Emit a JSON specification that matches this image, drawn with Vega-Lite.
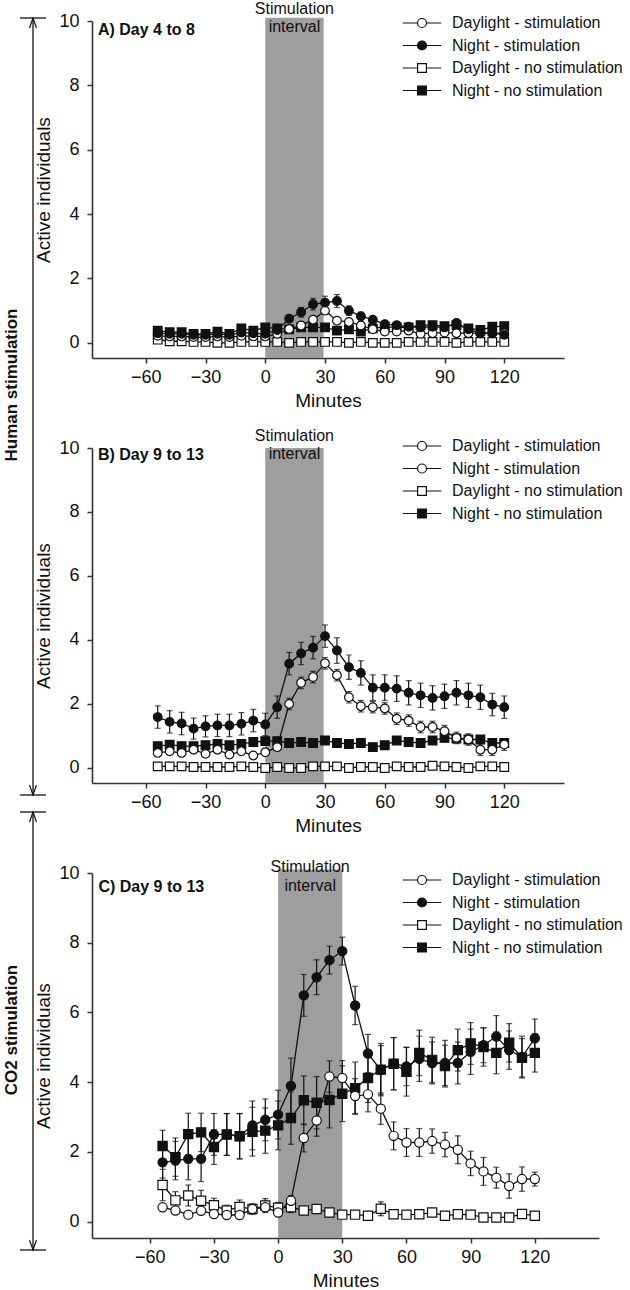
{
"$schema": "https://vega.github.io/schema/vega-lite/v6.json",
"background": "white",
"padding": {"left": 3, "top": 1, "right": 0, "bottom": 0},
"bounds": "flush",
"spacing": 44,
"config": {
  "font": "Liberation Sans",
  "view": {"stroke": null},
  "axis": {"grid": false, "domainColor": "#333", "domainWidth": 1.6, "tickColor": "#333", "tickWidth": 1.5, "tickSize": 5, "labelFontSize": 18, "labelColor": "#111", "titleFontSize": 19, "titleFontWeight": "normal", "titleColor": "#111", "labelFont": "Liberation Sans", "titleFont": "Liberation Sans"},
  "axisX": {"labelPadding": 5, "titlePadding": 5},
  "axisY": {"labelPadding": 8, "titlePadding": 5},
  "legend": {"labelFontSize": 16, "labelFont": "Liberation Sans", "labelColor": "#111", "symbolSize": 256, "symbolStrokeWidth": 1.2, "symbolStrokeColor": "#111", "labelOffset": 21, "rowPadding": 5.5, "padding": 0, "labelLimit": 300}
},
"datasets": {
"A": [
{"series":"Daylight - no stimulation","minute":-54,"active":0.1,"se":0.03},
{"series":"Daylight - no stimulation","minute":-48,"active":0.05,"se":0.03},
{"series":"Daylight - no stimulation","minute":-42,"active":0.05,"se":0.03},
{"series":"Daylight - no stimulation","minute":-36,"active":0.03,"se":0.03},
{"series":"Daylight - no stimulation","minute":-30,"active":0.03,"se":0.03},
{"series":"Daylight - no stimulation","minute":-24,"active":0.0,"se":0.03},
{"series":"Daylight - no stimulation","minute":-18,"active":0.0,"se":0.03},
{"series":"Daylight - no stimulation","minute":-12,"active":0.03,"se":0.03},
{"series":"Daylight - no stimulation","minute":-6,"active":0.03,"se":0.03},
{"series":"Daylight - no stimulation","minute":0,"active":0.03,"se":0.03},
{"series":"Daylight - no stimulation","minute":6,"active":0.03,"se":0.03},
{"series":"Daylight - no stimulation","minute":12,"active":0.0,"se":0.03},
{"series":"Daylight - no stimulation","minute":18,"active":0.03,"se":0.03},
{"series":"Daylight - no stimulation","minute":24,"active":0.03,"se":0.03},
{"series":"Daylight - no stimulation","minute":30,"active":0.03,"se":0.03},
{"series":"Daylight - no stimulation","minute":36,"active":0.03,"se":0.03},
{"series":"Daylight - no stimulation","minute":42,"active":0.0,"se":0.03},
{"series":"Daylight - no stimulation","minute":48,"active":0.03,"se":0.03},
{"series":"Daylight - no stimulation","minute":54,"active":0.0,"se":0.03},
{"series":"Daylight - no stimulation","minute":60,"active":0.0,"se":0.03},
{"series":"Daylight - no stimulation","minute":66,"active":0.0,"se":0.03},
{"series":"Daylight - no stimulation","minute":72,"active":0.03,"se":0.03},
{"series":"Daylight - no stimulation","minute":78,"active":0.03,"se":0.03},
{"series":"Daylight - no stimulation","minute":84,"active":0.03,"se":0.03},
{"series":"Daylight - no stimulation","minute":90,"active":0.03,"se":0.03},
{"series":"Daylight - no stimulation","minute":96,"active":0.0,"se":0.03},
{"series":"Daylight - no stimulation","minute":102,"active":0.03,"se":0.03},
{"series":"Daylight - no stimulation","minute":108,"active":0.03,"se":0.03},
{"series":"Daylight - no stimulation","minute":114,"active":0.03,"se":0.03},
{"series":"Daylight - no stimulation","minute":120,"active":0.03,"se":0.03},
{"series":"Night - no stimulation","minute":-54,"active":0.38,"se":0.07},
{"series":"Night - no stimulation","minute":-48,"active":0.33,"se":0.07},
{"series":"Night - no stimulation","minute":-42,"active":0.33,"se":0.07},
{"series":"Night - no stimulation","minute":-36,"active":0.28,"se":0.07},
{"series":"Night - no stimulation","minute":-30,"active":0.28,"se":0.07},
{"series":"Night - no stimulation","minute":-24,"active":0.35,"se":0.07},
{"series":"Night - no stimulation","minute":-18,"active":0.28,"se":0.07},
{"series":"Night - no stimulation","minute":-12,"active":0.45,"se":0.07},
{"series":"Night - no stimulation","minute":-6,"active":0.38,"se":0.07},
{"series":"Night - no stimulation","minute":0,"active":0.48,"se":0.07},
{"series":"Night - no stimulation","minute":6,"active":0.45,"se":0.07},
{"series":"Night - no stimulation","minute":12,"active":0.42,"se":0.07},
{"series":"Night - no stimulation","minute":18,"active":0.48,"se":0.07},
{"series":"Night - no stimulation","minute":24,"active":0.48,"se":0.07},
{"series":"Night - no stimulation","minute":30,"active":0.48,"se":0.07},
{"series":"Night - no stimulation","minute":36,"active":0.38,"se":0.07},
{"series":"Night - no stimulation","minute":42,"active":0.42,"se":0.07},
{"series":"Night - no stimulation","minute":48,"active":0.35,"se":0.07},
{"series":"Night - no stimulation","minute":54,"active":0.45,"se":0.07},
{"series":"Night - no stimulation","minute":60,"active":0.5,"se":0.07},
{"series":"Night - no stimulation","minute":66,"active":0.48,"se":0.07},
{"series":"Night - no stimulation","minute":72,"active":0.48,"se":0.07},
{"series":"Night - no stimulation","minute":78,"active":0.55,"se":0.07},
{"series":"Night - no stimulation","minute":84,"active":0.55,"se":0.07},
{"series":"Night - no stimulation","minute":90,"active":0.52,"se":0.07},
{"series":"Night - no stimulation","minute":96,"active":0.55,"se":0.07},
{"series":"Night - no stimulation","minute":102,"active":0.45,"se":0.07},
{"series":"Night - no stimulation","minute":108,"active":0.4,"se":0.07},
{"series":"Night - no stimulation","minute":114,"active":0.5,"se":0.07},
{"series":"Night - no stimulation","minute":120,"active":0.52,"se":0.07},
{"series":"Daylight - stimulation","minute":-54,"active":0.22,"se":0.06},
{"series":"Daylight - stimulation","minute":-48,"active":0.2,"se":0.06},
{"series":"Daylight - stimulation","minute":-42,"active":0.2,"se":0.06},
{"series":"Daylight - stimulation","minute":-36,"active":0.18,"se":0.06},
{"series":"Daylight - stimulation","minute":-30,"active":0.18,"se":0.06},
{"series":"Daylight - stimulation","minute":-24,"active":0.2,"se":0.06},
{"series":"Daylight - stimulation","minute":-18,"active":0.18,"se":0.06},
{"series":"Daylight - stimulation","minute":-12,"active":0.22,"se":0.06},
{"series":"Daylight - stimulation","minute":-6,"active":0.2,"se":0.06},
{"series":"Daylight - stimulation","minute":0,"active":0.2,"se":0.06},
{"series":"Daylight - stimulation","minute":6,"active":0.28,"se":0.06},
{"series":"Daylight - stimulation","minute":12,"active":0.43,"se":0.1},
{"series":"Daylight - stimulation","minute":18,"active":0.54,"se":0.1},
{"series":"Daylight - stimulation","minute":24,"active":0.72,"se":0.1},
{"series":"Daylight - stimulation","minute":30,"active":1.0,"se":0.1},
{"series":"Daylight - stimulation","minute":36,"active":0.69,"se":0.1},
{"series":"Daylight - stimulation","minute":42,"active":0.65,"se":0.1},
{"series":"Daylight - stimulation","minute":48,"active":0.54,"se":0.1},
{"series":"Daylight - stimulation","minute":54,"active":0.42,"se":0.07},
{"series":"Daylight - stimulation","minute":60,"active":0.35,"se":0.07},
{"series":"Daylight - stimulation","minute":66,"active":0.35,"se":0.07},
{"series":"Daylight - stimulation","minute":72,"active":0.38,"se":0.07},
{"series":"Daylight - stimulation","minute":78,"active":0.28,"se":0.07},
{"series":"Daylight - stimulation","minute":84,"active":0.3,"se":0.07},
{"series":"Daylight - stimulation","minute":90,"active":0.32,"se":0.07},
{"series":"Daylight - stimulation","minute":96,"active":0.3,"se":0.07},
{"series":"Daylight - stimulation","minute":102,"active":0.3,"se":0.07},
{"series":"Daylight - stimulation","minute":108,"active":0.3,"se":0.07},
{"series":"Daylight - stimulation","minute":114,"active":0.3,"se":0.07},
{"series":"Daylight - stimulation","minute":120,"active":0.3,"se":0.07},
{"series":"Night - stimulation","minute":-54,"active":0.3,"se":0.08},
{"series":"Night - stimulation","minute":-48,"active":0.28,"se":0.08},
{"series":"Night - stimulation","minute":-42,"active":0.28,"se":0.08},
{"series":"Night - stimulation","minute":-36,"active":0.25,"se":0.08},
{"series":"Night - stimulation","minute":-30,"active":0.25,"se":0.08},
{"series":"Night - stimulation","minute":-24,"active":0.28,"se":0.08},
{"series":"Night - stimulation","minute":-18,"active":0.25,"se":0.08},
{"series":"Night - stimulation","minute":-12,"active":0.32,"se":0.08},
{"series":"Night - stimulation","minute":-6,"active":0.3,"se":0.08},
{"series":"Night - stimulation","minute":0,"active":0.28,"se":0.08},
{"series":"Night - stimulation","minute":6,"active":0.4,"se":0.1},
{"series":"Night - stimulation","minute":12,"active":0.75,"se":0.12},
{"series":"Night - stimulation","minute":18,"active":0.95,"se":0.15},
{"series":"Night - stimulation","minute":24,"active":1.2,"se":0.18},
{"series":"Night - stimulation","minute":30,"active":1.25,"se":0.2},
{"series":"Night - stimulation","minute":36,"active":1.3,"se":0.2},
{"series":"Night - stimulation","minute":42,"active":1.0,"se":0.15},
{"series":"Night - stimulation","minute":48,"active":0.83,"se":0.12},
{"series":"Night - stimulation","minute":54,"active":0.72,"se":0.1},
{"series":"Night - stimulation","minute":60,"active":0.58,"se":0.1},
{"series":"Night - stimulation","minute":66,"active":0.55,"se":0.1},
{"series":"Night - stimulation","minute":72,"active":0.5,"se":0.1},
{"series":"Night - stimulation","minute":78,"active":0.48,"se":0.1},
{"series":"Night - stimulation","minute":84,"active":0.5,"se":0.1},
{"series":"Night - stimulation","minute":90,"active":0.48,"se":0.1},
{"series":"Night - stimulation","minute":96,"active":0.62,"se":0.1},
{"series":"Night - stimulation","minute":102,"active":0.42,"se":0.1},
{"series":"Night - stimulation","minute":108,"active":0.3,"se":0.08},
{"series":"Night - stimulation","minute":114,"active":0.3,"se":0.08},
{"series":"Night - stimulation","minute":120,"active":0.25,"se":0.08}
],
"B": [
{"series":"Daylight - no stimulation","minute":-54,"active":0.05,"se":0.03},
{"series":"Daylight - no stimulation","minute":-48,"active":0.05,"se":0.03},
{"series":"Daylight - no stimulation","minute":-42,"active":0.05,"se":0.03},
{"series":"Daylight - no stimulation","minute":-36,"active":0.03,"se":0.03},
{"series":"Daylight - no stimulation","minute":-30,"active":0.03,"se":0.03},
{"series":"Daylight - no stimulation","minute":-24,"active":0.03,"se":0.03},
{"series":"Daylight - no stimulation","minute":-18,"active":0.03,"se":0.03},
{"series":"Daylight - no stimulation","minute":-12,"active":0.05,"se":0.03},
{"series":"Daylight - no stimulation","minute":-6,"active":0.03,"se":0.03},
{"series":"Daylight - no stimulation","minute":0,"active":0.0,"se":0.03},
{"series":"Daylight - no stimulation","minute":6,"active":0.03,"se":0.03},
{"series":"Daylight - no stimulation","minute":12,"active":0.0,"se":0.03},
{"series":"Daylight - no stimulation","minute":18,"active":0.0,"se":0.03},
{"series":"Daylight - no stimulation","minute":24,"active":0.05,"se":0.03},
{"series":"Daylight - no stimulation","minute":30,"active":0.05,"se":0.03},
{"series":"Daylight - no stimulation","minute":36,"active":0.05,"se":0.03},
{"series":"Daylight - no stimulation","minute":42,"active":0.0,"se":0.03},
{"series":"Daylight - no stimulation","minute":48,"active":0.03,"se":0.03},
{"series":"Daylight - no stimulation","minute":54,"active":0.03,"se":0.03},
{"series":"Daylight - no stimulation","minute":60,"active":0.0,"se":0.03},
{"series":"Daylight - no stimulation","minute":66,"active":0.05,"se":0.03},
{"series":"Daylight - no stimulation","minute":72,"active":0.03,"se":0.03},
{"series":"Daylight - no stimulation","minute":78,"active":0.03,"se":0.03},
{"series":"Daylight - no stimulation","minute":84,"active":0.07,"se":0.03},
{"series":"Daylight - no stimulation","minute":90,"active":0.05,"se":0.03},
{"series":"Daylight - no stimulation","minute":96,"active":0.03,"se":0.03},
{"series":"Daylight - no stimulation","minute":102,"active":0.0,"se":0.03},
{"series":"Daylight - no stimulation","minute":108,"active":0.05,"se":0.03},
{"series":"Daylight - no stimulation","minute":114,"active":0.05,"se":0.03},
{"series":"Daylight - no stimulation","minute":120,"active":0.03,"se":0.03},
{"series":"Night - no stimulation","minute":-54,"active":0.68,"se":0.12},
{"series":"Night - no stimulation","minute":-48,"active":0.73,"se":0.12},
{"series":"Night - no stimulation","minute":-42,"active":0.68,"se":0.12},
{"series":"Night - no stimulation","minute":-36,"active":0.68,"se":0.12},
{"series":"Night - no stimulation","minute":-30,"active":0.71,"se":0.12},
{"series":"Night - no stimulation","minute":-24,"active":0.75,"se":0.12},
{"series":"Night - no stimulation","minute":-18,"active":0.71,"se":0.12},
{"series":"Night - no stimulation","minute":-12,"active":0.75,"se":0.12},
{"series":"Night - no stimulation","minute":-6,"active":0.81,"se":0.12},
{"series":"Night - no stimulation","minute":0,"active":0.84,"se":0.12},
{"series":"Night - no stimulation","minute":6,"active":0.84,"se":0.12},
{"series":"Night - no stimulation","minute":12,"active":0.78,"se":0.12},
{"series":"Night - no stimulation","minute":18,"active":0.81,"se":0.12},
{"series":"Night - no stimulation","minute":24,"active":0.78,"se":0.12},
{"series":"Night - no stimulation","minute":30,"active":0.86,"se":0.12},
{"series":"Night - no stimulation","minute":36,"active":0.78,"se":0.12},
{"series":"Night - no stimulation","minute":42,"active":0.75,"se":0.12},
{"series":"Night - no stimulation","minute":48,"active":0.78,"se":0.12},
{"series":"Night - no stimulation","minute":54,"active":0.65,"se":0.12},
{"series":"Night - no stimulation","minute":60,"active":0.71,"se":0.12},
{"series":"Night - no stimulation","minute":66,"active":0.86,"se":0.12},
{"series":"Night - no stimulation","minute":72,"active":0.81,"se":0.12},
{"series":"Night - no stimulation","minute":78,"active":0.78,"se":0.12},
{"series":"Night - no stimulation","minute":84,"active":0.86,"se":0.12},
{"series":"Night - no stimulation","minute":90,"active":0.94,"se":0.12},
{"series":"Night - no stimulation","minute":96,"active":0.92,"se":0.12},
{"series":"Night - no stimulation","minute":102,"active":0.89,"se":0.12},
{"series":"Night - no stimulation","minute":108,"active":0.89,"se":0.12},
{"series":"Night - no stimulation","minute":114,"active":0.78,"se":0.12},
{"series":"Night - no stimulation","minute":120,"active":0.78,"se":0.12},
{"series":"Daylight - stimulation","minute":-54,"active":0.47,"se":0.1},
{"series":"Daylight - stimulation","minute":-48,"active":0.52,"se":0.1},
{"series":"Daylight - stimulation","minute":-42,"active":0.47,"se":0.1},
{"series":"Daylight - stimulation","minute":-36,"active":0.57,"se":0.1},
{"series":"Daylight - stimulation","minute":-30,"active":0.44,"se":0.1},
{"series":"Daylight - stimulation","minute":-24,"active":0.57,"se":0.1},
{"series":"Daylight - stimulation","minute":-18,"active":0.42,"se":0.1},
{"series":"Daylight - stimulation","minute":-12,"active":0.52,"se":0.1},
{"series":"Daylight - stimulation","minute":-6,"active":0.39,"se":0.1},
{"series":"Daylight - stimulation","minute":0,"active":0.49,"se":0.1},
{"series":"Daylight - stimulation","minute":6,"active":0.65,"se":0.1},
{"series":"Daylight - stimulation","minute":12,"active":2.0,"se":0.18},
{"series":"Daylight - stimulation","minute":18,"active":2.66,"se":0.18},
{"series":"Daylight - stimulation","minute":24,"active":2.84,"se":0.18},
{"series":"Daylight - stimulation","minute":30,"active":3.27,"se":0.18},
{"series":"Daylight - stimulation","minute":36,"active":2.9,"se":0.18},
{"series":"Daylight - stimulation","minute":42,"active":2.21,"se":0.18},
{"series":"Daylight - stimulation","minute":48,"active":1.93,"se":0.18},
{"series":"Daylight - stimulation","minute":54,"active":1.9,"se":0.18},
{"series":"Daylight - stimulation","minute":60,"active":1.86,"se":0.18},
{"series":"Daylight - stimulation","minute":66,"active":1.54,"se":0.18},
{"series":"Daylight - stimulation","minute":72,"active":1.48,"se":0.18},
{"series":"Daylight - stimulation","minute":78,"active":1.28,"se":0.18},
{"series":"Daylight - stimulation","minute":84,"active":1.28,"se":0.18},
{"series":"Daylight - stimulation","minute":90,"active":1.15,"se":0.18},
{"series":"Daylight - stimulation","minute":96,"active":0.94,"se":0.18},
{"series":"Daylight - stimulation","minute":102,"active":0.89,"se":0.18},
{"series":"Daylight - stimulation","minute":108,"active":0.57,"se":0.18},
{"series":"Daylight - stimulation","minute":114,"active":0.57,"se":0.18},
{"series":"Daylight - stimulation","minute":120,"active":0.73,"se":0.18},
{"series":"Night - stimulation","minute":-54,"active":1.59,"se":0.35},
{"series":"Night - stimulation","minute":-48,"active":1.44,"se":0.35},
{"series":"Night - stimulation","minute":-42,"active":1.39,"se":0.35},
{"series":"Night - stimulation","minute":-36,"active":1.23,"se":0.33},
{"series":"Night - stimulation","minute":-30,"active":1.3,"se":0.33},
{"series":"Night - stimulation","minute":-24,"active":1.33,"se":0.35},
{"series":"Night - stimulation","minute":-18,"active":1.33,"se":0.35},
{"series":"Night - stimulation","minute":-12,"active":1.38,"se":0.35},
{"series":"Night - stimulation","minute":-6,"active":1.48,"se":0.35},
{"series":"Night - stimulation","minute":0,"active":1.36,"se":0.35},
{"series":"Night - stimulation","minute":6,"active":1.9,"se":0.35},
{"series":"Night - stimulation","minute":12,"active":3.26,"se":0.35},
{"series":"Night - stimulation","minute":18,"active":3.58,"se":0.35},
{"series":"Night - stimulation","minute":24,"active":3.76,"se":0.35},
{"series":"Night - stimulation","minute":30,"active":4.12,"se":0.35},
{"series":"Night - stimulation","minute":36,"active":3.67,"se":0.4},
{"series":"Night - stimulation","minute":42,"active":3.15,"se":0.38},
{"series":"Night - stimulation","minute":48,"active":2.97,"se":0.38},
{"series":"Night - stimulation","minute":54,"active":2.51,"se":0.4},
{"series":"Night - stimulation","minute":60,"active":2.51,"se":0.4},
{"series":"Night - stimulation","minute":66,"active":2.48,"se":0.4},
{"series":"Night - stimulation","minute":72,"active":2.35,"se":0.38},
{"series":"Night - stimulation","minute":78,"active":2.27,"se":0.38},
{"series":"Night - stimulation","minute":84,"active":2.19,"se":0.38},
{"series":"Night - stimulation","minute":90,"active":2.24,"se":0.38},
{"series":"Night - stimulation","minute":96,"active":2.35,"se":0.38},
{"series":"Night - stimulation","minute":102,"active":2.27,"se":0.38},
{"series":"Night - stimulation","minute":108,"active":2.21,"se":0.38},
{"series":"Night - stimulation","minute":114,"active":1.98,"se":0.35},
{"series":"Night - stimulation","minute":120,"active":1.9,"se":0.35}
],
"C": [
{"series":"Daylight - no stimulation","minute":-54,"active":1.05,"se":0.45},
{"series":"Daylight - no stimulation","minute":-48,"active":0.61,"se":0.25},
{"series":"Daylight - no stimulation","minute":-42,"active":0.75,"se":0.3},
{"series":"Daylight - no stimulation","minute":-36,"active":0.6,"se":0.3},
{"series":"Daylight - no stimulation","minute":-30,"active":0.47,"se":0.2},
{"series":"Daylight - no stimulation","minute":-24,"active":0.32,"se":0.15},
{"series":"Daylight - no stimulation","minute":-18,"active":0.42,"se":0.2},
{"series":"Daylight - no stimulation","minute":-12,"active":0.36,"se":0.15},
{"series":"Daylight - no stimulation","minute":-6,"active":0.46,"se":0.2},
{"series":"Daylight - no stimulation","minute":0,"active":0.4,"se":0.15},
{"series":"Daylight - no stimulation","minute":6,"active":0.41,"se":0.15},
{"series":"Daylight - no stimulation","minute":12,"active":0.32,"se":0.1},
{"series":"Daylight - no stimulation","minute":18,"active":0.36,"se":0.1},
{"series":"Daylight - no stimulation","minute":24,"active":0.26,"se":0.08},
{"series":"Daylight - no stimulation","minute":30,"active":0.2,"se":0.06},
{"series":"Daylight - no stimulation","minute":36,"active":0.2,"se":0.06},
{"series":"Daylight - no stimulation","minute":42,"active":0.17,"se":0.06},
{"series":"Daylight - no stimulation","minute":48,"active":0.37,"se":0.2},
{"series":"Daylight - no stimulation","minute":54,"active":0.21,"se":0.1},
{"series":"Daylight - no stimulation","minute":60,"active":0.2,"se":0.1},
{"series":"Daylight - no stimulation","minute":66,"active":0.21,"se":0.1},
{"series":"Daylight - no stimulation","minute":72,"active":0.26,"se":0.1},
{"series":"Daylight - no stimulation","minute":78,"active":0.17,"se":0.06},
{"series":"Daylight - no stimulation","minute":84,"active":0.21,"se":0.06},
{"series":"Daylight - no stimulation","minute":90,"active":0.2,"se":0.06},
{"series":"Daylight - no stimulation","minute":96,"active":0.12,"se":0.05},
{"series":"Daylight - no stimulation","minute":102,"active":0.12,"se":0.05},
{"series":"Daylight - no stimulation","minute":108,"active":0.12,"se":0.05},
{"series":"Daylight - no stimulation","minute":114,"active":0.22,"se":0.08},
{"series":"Daylight - no stimulation","minute":120,"active":0.17,"se":0.06},
{"series":"Night - no stimulation","minute":-54,"active":2.17,"se":0.45},
{"series":"Night - no stimulation","minute":-48,"active":1.85,"se":0.55},
{"series":"Night - no stimulation","minute":-42,"active":2.51,"se":0.6},
{"series":"Night - no stimulation","minute":-36,"active":2.56,"se":0.55},
{"series":"Night - no stimulation","minute":-30,"active":2.14,"se":0.5},
{"series":"Night - no stimulation","minute":-24,"active":2.5,"se":0.6},
{"series":"Night - no stimulation","minute":-18,"active":2.45,"se":0.65},
{"series":"Night - no stimulation","minute":-12,"active":2.58,"se":0.7},
{"series":"Night - no stimulation","minute":-6,"active":2.61,"se":0.65},
{"series":"Night - no stimulation","minute":0,"active":2.76,"se":0.7},
{"series":"Night - no stimulation","minute":6,"active":2.97,"se":0.75},
{"series":"Night - no stimulation","minute":12,"active":3.48,"se":0.7},
{"series":"Night - no stimulation","minute":18,"active":3.41,"se":0.75},
{"series":"Night - no stimulation","minute":24,"active":3.49,"se":0.8},
{"series":"Night - no stimulation","minute":30,"active":3.67,"se":0.8},
{"series":"Night - no stimulation","minute":36,"active":3.83,"se":0.75},
{"series":"Night - no stimulation","minute":42,"active":4.12,"se":0.7},
{"series":"Night - no stimulation","minute":48,"active":4.36,"se":0.75},
{"series":"Night - no stimulation","minute":54,"active":4.53,"se":0.75},
{"series":"Night - no stimulation","minute":60,"active":4.3,"se":0.7},
{"series":"Night - no stimulation","minute":66,"active":4.84,"se":0.65},
{"series":"Night - no stimulation","minute":72,"active":4.64,"se":0.65},
{"series":"Night - no stimulation","minute":78,"active":4.46,"se":0.6},
{"series":"Night - no stimulation","minute":84,"active":4.92,"se":0.6},
{"series":"Night - no stimulation","minute":90,"active":5.11,"se":0.6},
{"series":"Night - no stimulation","minute":96,"active":5.01,"se":0.55},
{"series":"Night - no stimulation","minute":102,"active":4.84,"se":0.6},
{"series":"Night - no stimulation","minute":108,"active":5.13,"se":0.55},
{"series":"Night - no stimulation","minute":114,"active":4.7,"se":0.55},
{"series":"Night - no stimulation","minute":120,"active":4.84,"se":0.55},
{"series":"Daylight - stimulation","minute":-54,"active":0.41,"se":0.1},
{"series":"Daylight - stimulation","minute":-48,"active":0.32,"se":0.1},
{"series":"Daylight - stimulation","minute":-42,"active":0.2,"se":0.08},
{"series":"Daylight - stimulation","minute":-36,"active":0.31,"se":0.1},
{"series":"Daylight - stimulation","minute":-30,"active":0.22,"se":0.08},
{"series":"Daylight - stimulation","minute":-24,"active":0.19,"se":0.08},
{"series":"Daylight - stimulation","minute":-18,"active":0.19,"se":0.1},
{"series":"Daylight - stimulation","minute":-12,"active":0.36,"se":0.1},
{"series":"Daylight - stimulation","minute":-6,"active":0.41,"se":0.1},
{"series":"Daylight - stimulation","minute":0,"active":0.26,"se":0.1},
{"series":"Daylight - stimulation","minute":6,"active":0.6,"se":0.15},
{"series":"Daylight - stimulation","minute":12,"active":2.4,"se":0.4},
{"series":"Daylight - stimulation","minute":18,"active":2.9,"se":0.45},
{"series":"Daylight - stimulation","minute":24,"active":4.16,"se":0.45},
{"series":"Daylight - stimulation","minute":30,"active":4.12,"se":0.5},
{"series":"Daylight - stimulation","minute":36,"active":3.6,"se":0.5},
{"series":"Daylight - stimulation","minute":42,"active":3.65,"se":0.5},
{"series":"Daylight - stimulation","minute":48,"active":3.24,"se":0.45},
{"series":"Daylight - stimulation","minute":54,"active":2.46,"se":0.4},
{"series":"Daylight - stimulation","minute":60,"active":2.27,"se":0.4},
{"series":"Daylight - stimulation","minute":66,"active":2.27,"se":0.4},
{"series":"Daylight - stimulation","minute":72,"active":2.31,"se":0.35},
{"series":"Daylight - stimulation","minute":78,"active":2.21,"se":0.35},
{"series":"Daylight - stimulation","minute":84,"active":2.06,"se":0.4},
{"series":"Daylight - stimulation","minute":90,"active":1.67,"se":0.35},
{"series":"Daylight - stimulation","minute":96,"active":1.44,"se":0.4},
{"series":"Daylight - stimulation","minute":102,"active":1.26,"se":0.3},
{"series":"Daylight - stimulation","minute":108,"active":1.02,"se":0.35},
{"series":"Daylight - stimulation","minute":114,"active":1.22,"se":0.35},
{"series":"Daylight - stimulation","minute":120,"active":1.22,"se":0.2},
{"series":"Night - stimulation","minute":-54,"active":1.7,"se":0.45},
{"series":"Night - stimulation","minute":-48,"active":1.75,"se":0.55},
{"series":"Night - stimulation","minute":-42,"active":1.8,"se":0.6},
{"series":"Night - stimulation","minute":-36,"active":1.8,"se":0.65},
{"series":"Night - stimulation","minute":-30,"active":2.5,"se":0.6},
{"series":"Night - stimulation","minute":-24,"active":2.5,"se":0.6},
{"series":"Night - stimulation","minute":-18,"active":2.45,"se":0.65},
{"series":"Night - stimulation","minute":-12,"active":2.76,"se":0.7},
{"series":"Night - stimulation","minute":-6,"active":2.92,"se":0.6},
{"series":"Night - stimulation","minute":0,"active":3.07,"se":0.7},
{"series":"Night - stimulation","minute":6,"active":3.89,"se":0.8},
{"series":"Night - stimulation","minute":12,"active":6.49,"se":0.6},
{"series":"Night - stimulation","minute":18,"active":7.01,"se":0.5},
{"series":"Night - stimulation","minute":24,"active":7.5,"se":0.4},
{"series":"Night - stimulation","minute":30,"active":7.76,"se":0.4},
{"series":"Night - stimulation","minute":36,"active":6.2,"se":0.55},
{"series":"Night - stimulation","minute":42,"active":4.82,"se":0.55},
{"series":"Night - stimulation","minute":48,"active":4.35,"se":0.7},
{"series":"Night - stimulation","minute":54,"active":4.53,"se":0.75},
{"series":"Night - stimulation","minute":60,"active":4.45,"se":0.55},
{"series":"Night - stimulation","minute":66,"active":4.67,"se":0.65},
{"series":"Night - stimulation","minute":72,"active":4.55,"se":0.6},
{"series":"Night - stimulation","minute":78,"active":4.55,"se":0.65},
{"series":"Night - stimulation","minute":84,"active":4.55,"se":0.6},
{"series":"Night - stimulation","minute":90,"active":4.87,"se":0.65},
{"series":"Night - stimulation","minute":96,"active":5.06,"se":0.5},
{"series":"Night - stimulation","minute":102,"active":5.31,"se":0.6},
{"series":"Night - stimulation","minute":108,"active":4.92,"se":0.55},
{"series":"Night - stimulation","minute":114,"active":4.72,"se":0.6},
{"series":"Night - stimulation","minute":120,"active":5.26,"se":0.55}
],
"side": [
{"kind":"rule","x":30,"y":18,"x2":30,"y2":795},
{"kind":"rule","x":30,"y":812,"x2":30,"y2":1250},
{"kind":"rule","x":17,"y":18,"x2":43,"y2":18},
{"kind":"rule","x":17,"y":795,"x2":43,"y2":795},
{"kind":"rule","x":17,"y":812,"x2":43,"y2":812},
{"kind":"rule","x":17,"y":1250,"x2":43,"y2":1250},
{"kind":"arrow","x":30,"y":23,"dir":"up"},
{"kind":"arrow","x":30,"y":790,"dir":"down"},
{"kind":"arrow","x":30,"y":817,"dir":"up"},
{"kind":"arrow","x":30,"y":1245,"dir":"down"},
{"kind":"label","x":9,"y":385,"label":"Human stimulation"},
{"kind":"label","x":9,"y":1030,"label":"CO2 stimulation"}
]
},
"hconcat": [
{
  "width": 45, "height": 1217,
  "data": {"name": "side"},
  "layer": [
    {"transform": [{"filter": "datum.kind === 'rule'"}],
     "mark": {"type": "rule", "color": "#111", "strokeWidth": 1.3},
     "encoding": {
       "x": {"field": "x", "type": "quantitative", "scale": {"domain": [0, 45], "nice": false, "zero": false}, "axis": null},
       "y": {"field": "y", "type": "quantitative", "scale": {"domain": [21, 1238], "reverse": true, "nice": false, "zero": false}, "axis": null},
       "x2": {"field": "x2"}, "y2": {"field": "y2"}}},
    {"transform": [{"filter": "datum.kind === 'arrow'"}],
     "mark": {"type": "point", "filled": false, "stroke": "#111", "strokeWidth": 1.2, "size": 100, "opacity": 1},
     "encoding": {
       "x": {"field": "x", "type": "quantitative", "scale": {"domain": [0, 45], "nice": false, "zero": false}, "axis": null},
       "y": {"field": "y", "type": "quantitative", "scale": {"domain": [21, 1238], "reverse": true, "nice": false, "zero": false}, "axis": null},
       "shape": {"field": "dir", "type": "nominal", "scale": {"domain": ["up", "down"], "range": ["M-0.7,1L0,-1L0.7,1", "M-0.7,-1L0,1L0.7,-1"]}, "legend": null}}},
    {"transform": [{"filter": "datum.kind === 'label'"}],
     "mark": {"type": "text", "angle": 270, "fontSize": 17, "fontWeight": "bold", "align": "center", "baseline": "middle", "color": "#111"},
     "encoding": {
       "x": {"field": "x", "type": "quantitative", "scale": {"domain": [0, 45], "nice": false, "zero": false}, "axis": null},
       "y": {"field": "y", "type": "quantitative", "scale": {"domain": [21, 1238], "reverse": true, "nice": false, "zero": false}, "axis": null},
       "text": {"field": "label"}}}
  ]
},
{
  "vconcat": [
  {
    "width": 472, "height": 337,
    "resolve": {"scale": {"shape": "independent", "fill": "independent"}},
    "layer": [
      {"data": {"values": [{"start": 0, "end": 29.3}]},
       "mark": {"type": "rect", "color": "#9e9e9e"},
       "encoding": {
         "x": {"field": "start", "type": "quantitative", "scale": {"domain": [-87, 150], "nice": false, "zero": false}, "axis": {"values": [-60, -30, 0, 30, 60, 90, 120], "labelFlush": false}, "title": "Minutes"},
         "x2": {"field": "end"},
         "y": {"datum": 10.1, "type": "quantitative", "scale": {"domain": [-0.47, 10], "nice": false, "zero": false}, "axis": {"values": [0, 2, 4, 6, 8, 10], "labelFlush": false}, "title": "Active individuals"},
         "y2": {"datum": -0.47}}},
      {"data": {"values": [{}]},
       "mark": {"type": "text", "text": "Stimulation", "dy": -12, "fontSize": 16, "baseline": "middle", "align": "center", "color": "#111"},
       "encoding": {
         "x": {"datum": 14.65, "type": "quantitative", "scale": {"domain": [-87, 150], "nice": false, "zero": false}, "axis": {"values": [-60, -30, 0, 30, 60, 90, 120], "labelFlush": false}, "title": "Minutes"},
         "y": {"datum": 10, "type": "quantitative", "scale": {"domain": [-0.47, 10], "nice": false, "zero": false}, "axis": {"values": [0, 2, 4, 6, 8, 10], "labelFlush": false}, "title": "Active individuals"}}},
      {"data": {"values": [{}]},
       "mark": {"type": "text", "text": "interval", "dy": 6, "fontSize": 16, "baseline": "middle", "align": "center", "color": "#111"},
       "encoding": {
         "x": {"datum": 14.65, "type": "quantitative", "scale": {"domain": [-87, 150], "nice": false, "zero": false}, "axis": {"values": [-60, -30, 0, 30, 60, 90, 120], "labelFlush": false}, "title": "Minutes"},
         "y": {"datum": 10, "type": "quantitative", "scale": {"domain": [-0.47, 10], "nice": false, "zero": false}, "axis": {"values": [0, 2, 4, 6, 8, 10], "labelFlush": false}, "title": "Active individuals"}}},
      {"data": {"values": [{}]},
       "mark": {"type": "text", "text": "A) Day 4 to 8", "dy": 9, "fontSize": 16, "fontWeight": "bold", "baseline": "middle", "align": "left", "color": "#111"},
       "encoding": {
         "x": {"datum": -84, "type": "quantitative", "scale": {"domain": [-87, 150], "nice": false, "zero": false}, "axis": {"values": [-60, -30, 0, 30, 60, 90, 120], "labelFlush": false}, "title": "Minutes"},
         "y": {"datum": 10, "type": "quantitative", "scale": {"domain": [-0.47, 10], "nice": false, "zero": false}, "axis": {"values": [0, 2, 4, 6, 8, 10], "labelFlush": false}, "title": "Active individuals"}}},
      {"data": {"name": "A"},
       "mark": {"type": "errorbar", "color": "#111", "thickness": 1.2, "size": 6, "ticks": true},
       "encoding": {
         "x": {"field": "minute", "type": "quantitative", "scale": {"domain": [-87, 150], "nice": false, "zero": false}, "axis": {"values": [-60, -30, 0, 30, 60, 90, 120], "labelFlush": false}, "title": "Minutes"},
         "y": {"field": "active", "type": "quantitative", "scale": {"domain": [-0.47, 10], "nice": false, "zero": false}, "axis": {"values": [0, 2, 4, 6, 8, 10], "labelFlush": false}, "title": "Active individuals"},
         "yError": {"field": "se"}}},
      {"data": {"name": "A"},
       "mark": {"type": "line", "color": "#111", "strokeWidth": 1.3},
       "encoding": {
         "x": {"field": "minute", "type": "quantitative", "scale": {"domain": [-87, 150], "nice": false, "zero": false}, "axis": {"values": [-60, -30, 0, 30, 60, 90, 120], "labelFlush": false}, "title": "Minutes"},
         "y": {"field": "active", "type": "quantitative", "scale": {"domain": [-0.47, 10], "nice": false, "zero": false}, "axis": {"values": [0, 2, 4, 6, 8, 10], "labelFlush": false}, "title": "Active individuals"},
         "detail": {"field": "series", "type": "nominal"}}},
      {"data": {"name": "A"},
       "mark": {"type": "point", "filled": true, "stroke": "#111", "strokeWidth": 1.2, "size": 75, "opacity": 1},
       "encoding": {
         "x": {"field": "minute", "type": "quantitative", "scale": {"domain": [-87, 150], "nice": false, "zero": false}, "axis": {"values": [-60, -30, 0, 30, 60, 90, 120], "labelFlush": false}, "title": "Minutes"},
         "y": {"field": "active", "type": "quantitative", "scale": {"domain": [-0.47, 10], "nice": false, "zero": false}, "axis": {"values": [0, 2, 4, 6, 8, 10], "labelFlush": false}, "title": "Active individuals"},
         "shape": {"field": "series", "type": "nominal", "scale": {"domain": ["Daylight - stimulation", "Night - stimulation", "Daylight - no stimulation", "Night - no stimulation"], "range": ["circle", "circle", "square", "square"]}, "legend": null},
         "fill": {"field": "series", "type": "nominal", "scale": {"domain": ["Daylight - stimulation", "Night - stimulation", "Daylight - no stimulation", "Night - no stimulation"], "range": ["white", "#111", "white", "#111"]}, "legend": null}}},
      {"data": {"name": "A"},
       "mark": {"type": "point", "filled": true, "stroke": "#111", "strokeWidth": 1.2, "size": 256, "opacity": 0},
       "encoding": {
         "x": {"field": "minute", "type": "quantitative", "scale": {"domain": [-87, 150], "nice": false, "zero": false}, "axis": {"values": [-60, -30, 0, 30, 60, 90, 120], "labelFlush": false}, "title": "Minutes"},
         "y": {"field": "active", "type": "quantitative", "scale": {"domain": [-0.47, 10], "nice": false, "zero": false}, "axis": {"values": [0, 2, 4, 6, 8, 10], "labelFlush": false}, "title": "Active individuals"},
         "shape": {"field": "series", "type": "nominal", "scale": {"domain": ["Daylight - stimulation", "Night - stimulation", "Daylight - no stimulation", "Night - no stimulation"], "range": ["M-2.4,0L-0.56,0M0.56,0L2.4,0M0.56,0A0.56,0.56,0,1,1,-0.56,0A0.56,0.56,0,1,1,0.56,0Z", "M-2.4,0L-0.56,0M0.56,0L2.4,0M0.56,0A0.56,0.56,0,1,1,-0.56,0A0.56,0.56,0,1,1,0.56,0Z", "M-2.4,0L-0.55,0M0.55,0L2.4,0M-0.55,-0.55L0.55,-0.55L0.55,0.55L-0.55,0.55Z", "M-2.4,0L-0.55,0M0.55,0L2.4,0M-0.55,-0.55L0.55,-0.55L0.55,0.55L-0.55,0.55Z"]}, "legend": {"title": null, "orient": "none", "legendX": 321, "legendY": -7, "encode": {"symbols": {"update": {"opacity": {"value": 1}}}}}},
         "fill": {"field": "series", "type": "nominal", "scale": {"domain": ["Daylight - stimulation", "Night - stimulation", "Daylight - no stimulation", "Night - no stimulation"], "range": ["white", "#111", "white", "#111"]}, "legend": {"title": null, "orient": "none", "legendX": 321, "legendY": -7, "encode": {"symbols": {"update": {"opacity": {"value": 1}}}}}}}}
    ]
  },
  {
    "width": 472, "height": 335,
    "resolve": {"scale": {"shape": "independent", "fill": "independent"}},
    "layer": [
      {"data": {"values": [{"start": 0, "end": 29.3}]},
       "mark": {"type": "rect", "color": "#9e9e9e"},
       "encoding": {
         "x": {"field": "start", "type": "quantitative", "scale": {"domain": [-87, 150], "nice": false, "zero": false}, "axis": {"values": [-60, -30, 0, 30, 60, 90, 120], "labelFlush": false}, "title": "Minutes"},
         "x2": {"field": "end"},
         "y": {"datum": 10, "type": "quantitative", "scale": {"domain": [-0.47, 10], "nice": false, "zero": false}, "axis": {"values": [0, 2, 4, 6, 8, 10], "labelFlush": false}, "title": "Active individuals"},
         "y2": {"datum": -0.47}}},
      {"data": {"values": [{}]},
       "mark": {"type": "text", "text": "Stimulation", "dy": -12, "fontSize": 16, "baseline": "middle", "align": "center", "color": "#111"},
       "encoding": {
         "x": {"datum": 14.65, "type": "quantitative", "scale": {"domain": [-87, 150], "nice": false, "zero": false}, "axis": {"values": [-60, -30, 0, 30, 60, 90, 120], "labelFlush": false}, "title": "Minutes"},
         "y": {"datum": 10, "type": "quantitative", "scale": {"domain": [-0.47, 10], "nice": false, "zero": false}, "axis": {"values": [0, 2, 4, 6, 8, 10], "labelFlush": false}, "title": "Active individuals"}}},
      {"data": {"values": [{}]},
       "mark": {"type": "text", "text": "interval", "dy": 6, "fontSize": 16, "baseline": "middle", "align": "center", "color": "#111"},
       "encoding": {
         "x": {"datum": 14.65, "type": "quantitative", "scale": {"domain": [-87, 150], "nice": false, "zero": false}, "axis": {"values": [-60, -30, 0, 30, 60, 90, 120], "labelFlush": false}, "title": "Minutes"},
         "y": {"datum": 10, "type": "quantitative", "scale": {"domain": [-0.47, 10], "nice": false, "zero": false}, "axis": {"values": [0, 2, 4, 6, 8, 10], "labelFlush": false}, "title": "Active individuals"}}},
      {"data": {"values": [{}]},
       "mark": {"type": "text", "text": "B) Day 9 to 13", "dy": 7, "fontSize": 16, "fontWeight": "bold", "baseline": "middle", "align": "left", "color": "#111"},
       "encoding": {
         "x": {"datum": -84, "type": "quantitative", "scale": {"domain": [-87, 150], "nice": false, "zero": false}, "axis": {"values": [-60, -30, 0, 30, 60, 90, 120], "labelFlush": false}, "title": "Minutes"},
         "y": {"datum": 10, "type": "quantitative", "scale": {"domain": [-0.47, 10], "nice": false, "zero": false}, "axis": {"values": [0, 2, 4, 6, 8, 10], "labelFlush": false}, "title": "Active individuals"}}},
      {"data": {"name": "B"},
       "mark": {"type": "errorbar", "color": "#111", "thickness": 1.2, "size": 6, "ticks": true},
       "encoding": {
         "x": {"field": "minute", "type": "quantitative", "scale": {"domain": [-87, 150], "nice": false, "zero": false}, "axis": {"values": [-60, -30, 0, 30, 60, 90, 120], "labelFlush": false}, "title": "Minutes"},
         "y": {"field": "active", "type": "quantitative", "scale": {"domain": [-0.47, 10], "nice": false, "zero": false}, "axis": {"values": [0, 2, 4, 6, 8, 10], "labelFlush": false}, "title": "Active individuals"},
         "yError": {"field": "se"}}},
      {"data": {"name": "B"},
       "mark": {"type": "line", "color": "#111", "strokeWidth": 1.3},
       "encoding": {
         "x": {"field": "minute", "type": "quantitative", "scale": {"domain": [-87, 150], "nice": false, "zero": false}, "axis": {"values": [-60, -30, 0, 30, 60, 90, 120], "labelFlush": false}, "title": "Minutes"},
         "y": {"field": "active", "type": "quantitative", "scale": {"domain": [-0.47, 10], "nice": false, "zero": false}, "axis": {"values": [0, 2, 4, 6, 8, 10], "labelFlush": false}, "title": "Active individuals"},
         "detail": {"field": "series", "type": "nominal"}}},
      {"data": {"name": "B"},
       "mark": {"type": "point", "filled": true, "stroke": "#111", "strokeWidth": 1.2, "size": 75, "opacity": 1},
       "encoding": {
         "x": {"field": "minute", "type": "quantitative", "scale": {"domain": [-87, 150], "nice": false, "zero": false}, "axis": {"values": [-60, -30, 0, 30, 60, 90, 120], "labelFlush": false}, "title": "Minutes"},
         "y": {"field": "active", "type": "quantitative", "scale": {"domain": [-0.47, 10], "nice": false, "zero": false}, "axis": {"values": [0, 2, 4, 6, 8, 10], "labelFlush": false}, "title": "Active individuals"},
         "shape": {"field": "series", "type": "nominal", "scale": {"domain": ["Daylight - stimulation", "Night - stimulation", "Daylight - no stimulation", "Night - no stimulation"], "range": ["circle", "circle", "square", "square"]}, "legend": null},
         "fill": {"field": "series", "type": "nominal", "scale": {"domain": ["Daylight - stimulation", "Night - stimulation", "Daylight - no stimulation", "Night - no stimulation"], "range": ["white", "#111", "white", "#111"]}, "legend": null}}},
      {"data": {"name": "B"},
       "mark": {"type": "point", "filled": true, "stroke": "#111", "strokeWidth": 1.2, "size": 256, "opacity": 0},
       "encoding": {
         "x": {"field": "minute", "type": "quantitative", "scale": {"domain": [-87, 150], "nice": false, "zero": false}, "axis": {"values": [-60, -30, 0, 30, 60, 90, 120], "labelFlush": false}, "title": "Minutes"},
         "y": {"field": "active", "type": "quantitative", "scale": {"domain": [-0.47, 10], "nice": false, "zero": false}, "axis": {"values": [0, 2, 4, 6, 8, 10], "labelFlush": false}, "title": "Active individuals"},
         "shape": {"field": "series", "type": "nominal", "scale": {"domain": ["Daylight - stimulation", "Night - stimulation", "Daylight - no stimulation", "Night - no stimulation"], "range": ["M-2.4,0L-0.56,0M0.56,0L2.4,0M0.56,0A0.56,0.56,0,1,1,-0.56,0A0.56,0.56,0,1,1,0.56,0Z", "M-2.4,0L-0.56,0M0.56,0L2.4,0M0.56,0A0.56,0.56,0,1,1,-0.56,0A0.56,0.56,0,1,1,0.56,0Z", "M-2.4,0L-0.55,0M0.55,0L2.4,0M-0.55,-0.55L0.55,-0.55L0.55,0.55L-0.55,0.55Z", "M-2.4,0L-0.55,0M0.55,0L2.4,0M-0.55,-0.55L0.55,-0.55L0.55,0.55L-0.55,0.55Z"]}, "legend": {"title": null, "orient": "none", "legendX": 321, "legendY": -11, "encode": {"symbols": {"update": {"opacity": {"value": 1}}}}}},
         "fill": {"field": "series", "type": "nominal", "scale": {"domain": ["Daylight - stimulation", "Night - stimulation", "Daylight - no stimulation", "Night - no stimulation"], "range": ["white", "white", "white", "#111"]}, "legend": {"title": null, "orient": "none", "legendX": 321, "legendY": -11, "encode": {"symbols": {"update": {"opacity": {"value": 1}}}}}}}}
    ]
  },
  {
    "width": 507, "height": 365,
    "resolve": {"scale": {"shape": "independent", "fill": "independent"}},
    "layer": [
      {"data": {"values": [{"start": 0, "end": 30}]},
       "mark": {"type": "rect", "color": "#9e9e9e"},
       "encoding": {
         "x": {"field": "start", "type": "quantitative", "scale": {"domain": [-87, 150], "nice": false, "zero": false}, "axis": {"values": [-60, -30, 0, 30, 60, 90, 120], "labelFlush": false}, "title": "Minutes"},
         "x2": {"field": "end"},
         "y": {"datum": 10.1, "type": "quantitative", "scale": {"domain": [-0.47, 10], "nice": false, "zero": false}, "axis": {"values": [0, 2, 4, 6, 8, 10], "labelFlush": false}, "title": "Active individuals"},
         "y2": {"datum": -0.47}}},
      {"data": {"values": [{}]},
       "mark": {"type": "text", "text": "Stimulation", "dy": -6, "fontSize": 16, "baseline": "middle", "align": "center", "color": "#111"},
       "encoding": {
         "x": {"datum": 15, "type": "quantitative", "scale": {"domain": [-87, 150], "nice": false, "zero": false}, "axis": {"values": [-60, -30, 0, 30, 60, 90, 120], "labelFlush": false}, "title": "Minutes"},
         "y": {"datum": 10, "type": "quantitative", "scale": {"domain": [-0.47, 10], "nice": false, "zero": false}, "axis": {"values": [0, 2, 4, 6, 8, 10], "labelFlush": false}, "title": "Active individuals"}}},
      {"data": {"values": [{}]},
       "mark": {"type": "text", "text": "interval", "dy": 13, "fontSize": 16, "baseline": "middle", "align": "center", "color": "#111"},
       "encoding": {
         "x": {"datum": 15, "type": "quantitative", "scale": {"domain": [-87, 150], "nice": false, "zero": false}, "axis": {"values": [-60, -30, 0, 30, 60, 90, 120], "labelFlush": false}, "title": "Minutes"},
         "y": {"datum": 10, "type": "quantitative", "scale": {"domain": [-0.47, 10], "nice": false, "zero": false}, "axis": {"values": [0, 2, 4, 6, 8, 10], "labelFlush": false}, "title": "Active individuals"}}},
      {"data": {"values": [{}]},
       "mark": {"type": "text", "text": "C) Day 9 to 13", "dy": 14, "fontSize": 16, "fontWeight": "bold", "baseline": "middle", "align": "left", "color": "#111"},
       "encoding": {
         "x": {"datum": -84, "type": "quantitative", "scale": {"domain": [-87, 150], "nice": false, "zero": false}, "axis": {"values": [-60, -30, 0, 30, 60, 90, 120], "labelFlush": false}, "title": "Minutes"},
         "y": {"datum": 10, "type": "quantitative", "scale": {"domain": [-0.47, 10], "nice": false, "zero": false}, "axis": {"values": [0, 2, 4, 6, 8, 10], "labelFlush": false}, "title": "Active individuals"}}},
      {"data": {"name": "C"},
       "mark": {"type": "errorbar", "color": "#111", "thickness": 1.2, "size": 6, "ticks": true},
       "encoding": {
         "x": {"field": "minute", "type": "quantitative", "scale": {"domain": [-87, 150], "nice": false, "zero": false}, "axis": {"values": [-60, -30, 0, 30, 60, 90, 120], "labelFlush": false}, "title": "Minutes"},
         "y": {"field": "active", "type": "quantitative", "scale": {"domain": [-0.47, 10], "nice": false, "zero": false}, "axis": {"values": [0, 2, 4, 6, 8, 10], "labelFlush": false}, "title": "Active individuals"},
         "yError": {"field": "se"}}},
      {"data": {"name": "C"},
       "mark": {"type": "line", "color": "#111", "strokeWidth": 1.3},
       "encoding": {
         "x": {"field": "minute", "type": "quantitative", "scale": {"domain": [-87, 150], "nice": false, "zero": false}, "axis": {"values": [-60, -30, 0, 30, 60, 90, 120], "labelFlush": false}, "title": "Minutes"},
         "y": {"field": "active", "type": "quantitative", "scale": {"domain": [-0.47, 10], "nice": false, "zero": false}, "axis": {"values": [0, 2, 4, 6, 8, 10], "labelFlush": false}, "title": "Active individuals"},
         "detail": {"field": "series", "type": "nominal"}}},
      {"data": {"name": "C"},
       "mark": {"type": "point", "filled": true, "stroke": "#111", "strokeWidth": 1.2, "size": 85, "opacity": 1},
       "encoding": {
         "x": {"field": "minute", "type": "quantitative", "scale": {"domain": [-87, 150], "nice": false, "zero": false}, "axis": {"values": [-60, -30, 0, 30, 60, 90, 120], "labelFlush": false}, "title": "Minutes"},
         "y": {"field": "active", "type": "quantitative", "scale": {"domain": [-0.47, 10], "nice": false, "zero": false}, "axis": {"values": [0, 2, 4, 6, 8, 10], "labelFlush": false}, "title": "Active individuals"},
         "shape": {"field": "series", "type": "nominal", "scale": {"domain": ["Daylight - stimulation", "Night - stimulation", "Daylight - no stimulation", "Night - no stimulation"], "range": ["circle", "circle", "square", "square"]}, "legend": null},
         "fill": {"field": "series", "type": "nominal", "scale": {"domain": ["Daylight - stimulation", "Night - stimulation", "Daylight - no stimulation", "Night - no stimulation"], "range": ["white", "#111", "white", "#111"]}, "legend": null}}},
      {"data": {"name": "C"},
       "mark": {"type": "point", "filled": true, "stroke": "#111", "strokeWidth": 1.2, "size": 256, "opacity": 0},
       "encoding": {
         "x": {"field": "minute", "type": "quantitative", "scale": {"domain": [-87, 150], "nice": false, "zero": false}, "axis": {"values": [-60, -30, 0, 30, 60, 90, 120], "labelFlush": false}, "title": "Minutes"},
         "y": {"field": "active", "type": "quantitative", "scale": {"domain": [-0.47, 10], "nice": false, "zero": false}, "axis": {"values": [0, 2, 4, 6, 8, 10], "labelFlush": false}, "title": "Active individuals"},
         "shape": {"field": "series", "type": "nominal", "scale": {"domain": ["Daylight - stimulation", "Night - stimulation", "Daylight - no stimulation", "Night - no stimulation"], "range": ["M-2.4,0L-0.56,0M0.56,0L2.4,0M0.56,0A0.56,0.56,0,1,1,-0.56,0A0.56,0.56,0,1,1,0.56,0Z", "M-2.4,0L-0.56,0M0.56,0L2.4,0M0.56,0A0.56,0.56,0,1,1,-0.56,0A0.56,0.56,0,1,1,0.56,0Z", "M-2.4,0L-0.55,0M0.55,0L2.4,0M-0.55,-0.55L0.55,-0.55L0.55,0.55L-0.55,0.55Z", "M-2.4,0L-0.55,0M0.55,0L2.4,0M-0.55,-0.55L0.55,-0.55L0.55,0.55L-0.55,0.55Z"]}, "legend": {"title": null, "orient": "none", "legendX": 321, "legendY": -2, "encode": {"symbols": {"update": {"opacity": {"value": 1}}}}}},
         "fill": {"field": "series", "type": "nominal", "scale": {"domain": ["Daylight - stimulation", "Night - stimulation", "Daylight - no stimulation", "Night - no stimulation"], "range": ["white", "#111", "white", "#111"]}, "legend": {"title": null, "orient": "none", "legendX": 321, "legendY": -2, "encode": {"symbols": {"update": {"opacity": {"value": 1}}}}}}}}
    ]
  }
  ],
  "spacing": 90,
  "bounds": "flush"
}
]
}
